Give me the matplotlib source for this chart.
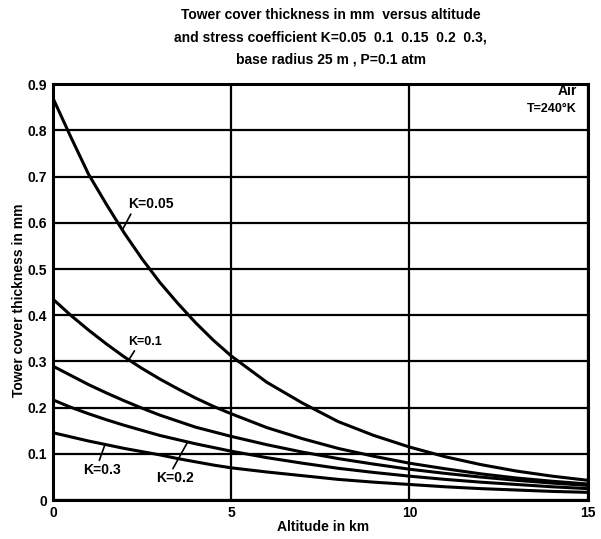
import matplotlib
matplotlib.use("Agg")
import matplotlib.pyplot as plt

altitude_km = [0, 0.5, 1, 1.5, 2, 2.5, 3, 3.5, 4, 4.5, 5, 6, 7, 8, 9, 10, 11, 12, 13, 14, 15]
k_005 = [0.870, 0.786, 0.705, 0.640, 0.578, 0.522, 0.471, 0.426, 0.384, 0.346, 0.312,
         0.255, 0.210, 0.170, 0.140, 0.115, 0.094, 0.077, 0.063, 0.052, 0.043]
k_010 = [0.435, 0.400, 0.368, 0.338, 0.310, 0.285, 0.262, 0.241, 0.221, 0.203, 0.187,
         0.157, 0.133, 0.112, 0.095, 0.080, 0.068, 0.057, 0.048, 0.041, 0.035]
k_015 = [0.290, 0.270, 0.250, 0.232, 0.215, 0.199, 0.184, 0.171, 0.158, 0.148, 0.138,
         0.120, 0.104, 0.090, 0.078, 0.067, 0.058, 0.050, 0.043, 0.037, 0.032]
k_020 = [0.217, 0.201, 0.187, 0.174, 0.162, 0.151, 0.140, 0.131, 0.122, 0.114, 0.106,
         0.092, 0.080, 0.069, 0.060, 0.052, 0.045, 0.039, 0.034, 0.029, 0.025]
k_030 = [0.146, 0.137, 0.128, 0.120, 0.112, 0.105, 0.098, 0.090, 0.083, 0.076, 0.070,
         0.061, 0.053, 0.045, 0.039, 0.034, 0.029, 0.025, 0.022, 0.019, 0.017]

x_ticks = [0, 5, 10, 15]
x_tick_labels = ["0", "5", "10", "15"]
y_ticks = [0, 0.1, 0.2, 0.3, 0.4, 0.5, 0.6, 0.7, 0.8, 0.9]
y_tick_labels = ["0", "0.1", "0.2", "0.3", "0.4", "0.5", "0.6", "0.7", "0.8", "0.9"]

plt.rcParams['font.family'] = ['Liberation Sans', 'DejaVu Sans']
plt.rcParams['font.weight'] = 'bold'

fig = plt.figure(figsize=(6.01, 5.39), dpi=100)
ax = fig.add_axes([0.088, 0.072, 0.890, 0.772])

for series in (k_005, k_010, k_015, k_020, k_030):
    ax.plot(altitude_km, series, color='black', lw=2.2, solid_joinstyle='round')

ax.set_xlim(0, 15)
ax.set_ylim(0, 0.9)
ax.set_xticks(x_ticks)
ax.set_xticklabels(x_tick_labels, fontsize=10, fontweight='bold')
ax.set_yticks(y_ticks)
ax.set_yticklabels(y_tick_labels, fontsize=10, fontweight='bold')
ax.tick_params(length=0, pad=4)
ax.grid(True, color='black', lw=1.6)
ax.set_axisbelow(True)
for s in ax.spines.values():
    s.set_linewidth(2.2)

arrow = dict(arrowstyle='-', color='black', lw=1.2, shrinkA=0, shrinkB=0)
ax.annotate("K=0.05", xy=(1.95, 0.585), xytext=(2.1, 0.64), fontsize=10,
            fontweight='bold', ha='left', va='center',
            arrowprops=dict(arrow, relpos=(0.1, 0.0)))
ax.annotate("K=0.1", xy=(2.1, 0.300), xytext=(2.1, 0.342), fontsize=9,
            fontweight='bold', ha='left', va='center',
            arrowprops=dict(arrow, relpos=(0.25, 0.0)))
ax.annotate("K=0.3", xy=(1.45, 0.118), xytext=(0.85, 0.065), fontsize=10,
            fontweight='bold', ha='left', va='center',
            arrowprops=dict(arrow, relpos=(0.4, 1.0)))
ax.annotate("K=0.2", xy=(3.78, 0.126), xytext=(2.9, 0.047), fontsize=10,
            fontweight='bold', ha='left', va='center',
            arrowprops=dict(arrow, relpos=(0.4, 1.0)))

ax.text(0.979, 0.983, "Air", transform=ax.transAxes, ha='right', va='center',
        fontsize=10, fontweight='bold')
ax.text(0.979, 0.94, "T=240°K", transform=ax.transAxes, ha='right', va='center',
        fontsize=9, fontweight='bold')

fig.text(0.55, 0.972, "Tower cover thickness in mm  versus altitude", ha='center',
         va='center', fontsize=10, fontweight='bold')
fig.text(0.55, 0.930, "and stress coefficient K=0.05  0.1  0.15  0.2  0.3,", ha='center',
         va='center', fontsize=10, fontweight='bold')
fig.text(0.55, 0.890, "base radius 25 m , P=0.1 atm", ha='center',
         va='center', fontsize=10, fontweight='bold')

fig.text(0.032, 0.443, "Tower cover thickness in mm", rotation=90, ha='center',
         va='center', fontsize=10, fontweight='bold')
fig.text(0.537, 0.022, "Altitude in km", ha='center', va='center',
         fontsize=10, fontweight='bold')

fig.savefig("out.png", dpi=100)
